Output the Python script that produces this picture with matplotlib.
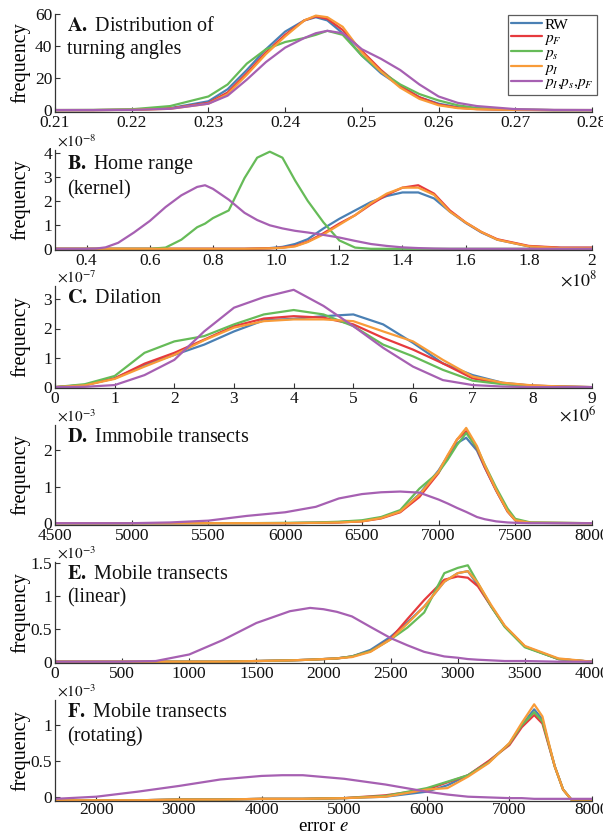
import matplotlib
matplotlib.use("Agg")
import matplotlib.pyplot as plt

plt.rcParams['font.family'] = 'serif'
plt.rcParams['font.serif'] = ['Liberation Serif', 'DejaVu Serif']
plt.rcParams['mathtext.fontset'] = 'stix'

# ---------------- data ----------------
series_names = ["RW", "$p_F$", "$p_s$", "$p_I$", "$p_I{,}p_s{,}p_F$"]
colors = ['#4A80B4', '#E63A3D', '#66BB58', '#F89B38', '#A660B2']

# A. Distribution of turning angles
A_x = [0.21, 0.215, 0.22, 0.225, 0.23, 0.2325, 0.235, 0.2375, 0.24, 0.2425, 0.244, 0.2455,
       0.2475, 0.25, 0.2525, 0.255, 0.2575, 0.26, 0.2625, 0.265, 0.27, 0.275, 0.28]
A_RW = [0, 0, 0.2, 1.2, 5.5, 13, 25, 38, 49, 56, 58, 56, 48, 34, 23, 15, 8, 4, 1.8, 0.8, 0.2, 0, 0]
A_pF = [0, 0, 0.2, 1, 4.5, 11, 23, 36, 47, 56, 58.5, 57, 50, 37, 25, 15, 8, 3.5, 1.5, 0.6, 0.1, 0, 0]
A_ps = [0, 0.1, 0.5, 2.5, 8.5, 16, 29, 38, 42.5, 45, 47, 49.5, 47, 34, 24, 16, 10, 6, 3, 1.3, 0.3, 0, 0]
A_pI = [0, 0, 0.1, 0.8, 4, 10, 22, 35, 46, 56, 59, 58, 52, 36, 24, 14, 7, 3, 1.2, 0.5, 0.1, 0, 0]
A_all = [0, 0, 0.1, 0.8, 4, 9, 19, 30, 39, 45, 48, 49.5, 48, 38, 32, 25, 16, 8.5, 4.5, 2.5, 0.6, 0.1, 0]

# B. Home range (kernel), x in 1e8, y in 1e-8
B_x = [0.3, 0.4, 0.43, 0.46, 0.5, 0.55, 0.6, 0.65, 0.7, 0.75, 0.775, 0.8, 0.85, 0.9, 0.94, 0.98, 1.02,
       1.06, 1.1, 1.15, 1.2, 1.25, 1.3, 1.35, 1.4, 1.45, 1.5, 1.55, 1.6, 1.65, 1.7, 1.8, 1.9, 2.0]
B_RW = [0, 0, 0, 0, 0, 0, 0, 0, 0, 0, 0, 0, 0, 0, 0.01, 0.03, 0.08, 0.2, 0.4, 0.85, 1.25, 1.6, 1.95,
        2.2, 2.35, 2.35, 2.1, 1.55, 1.08, 0.68, 0.38, 0.1, 0.04, 0.04]
B_pF = [0, 0, 0, 0, 0, 0, 0, 0, 0, 0, 0, 0, 0, 0, 0.01, 0.02, 0.05, 0.12, 0.3, 0.65, 1.05, 1.4, 1.85,
        2.25, 2.55, 2.65, 2.3, 1.6, 1.1, 0.7, 0.4, 0.12, 0.05, 0.05]
B_ps = [0, 0, 0, 0, 0, 0, 0, 0.05, 0.38, 0.9, 1.05, 1.28, 1.6, 2.95, 3.8, 4.05, 3.8, 2.85, 2.0, 1.1,
        0.35, 0.05, 0, 0, 0, 0, 0, 0, 0, 0, 0, 0, 0, 0]
B_pI = [0, 0, 0, 0, 0, 0, 0, 0, 0, 0, 0, 0, 0, 0, 0.01, 0.02, 0.04, 0.1, 0.28, 0.6, 1.0, 1.4, 1.9,
        2.3, 2.55, 2.55, 2.25, 1.55, 1.1, 0.7, 0.38, 0.1, 0.03, 0.02]
B_all = [0, 0, 0.01, 0.06, 0.25, 0.68, 1.16, 1.74, 2.23, 2.58, 2.65, 2.5, 2.05, 1.5, 1.2, 0.98, 0.85,
         0.75, 0.68, 0.58, 0.47, 0.33, 0.2, 0.12, 0.06, 0.03, 0.01, 0, 0, 0, 0, 0, 0, 0]

# C. Dilation, x in 1e6, y in 1e-7
C_x = [0, 0.5, 1, 1.5, 2, 2.5, 3, 3.5, 4, 4.5, 5, 5.5, 6, 6.5, 7, 7.5, 8, 8.5, 9]
C_RW = [0, 0.07, 0.3, 0.76, 1.1, 1.45, 1.9, 2.28, 2.33, 2.42, 2.48, 2.14, 1.51, 0.81, 0.41, 0.15, 0.05, 0.02, 0]
C_pF = [0, 0.07, 0.3, 0.8, 1.17, 1.62, 2.08, 2.34, 2.42, 2.37, 2.14, 1.68, 1.28, 0.81, 0.3, 0.12, 0.05, 0.02, 0]
C_ps = [0, 0.1, 0.38, 1.17, 1.56, 1.74, 2.14, 2.48, 2.63, 2.48, 2.08, 1.45, 1.05, 0.59, 0.22, 0.1, 0.03, 0.01, 0]
C_pI = [0, 0.06, 0.28, 0.7, 1.1, 1.6, 2.03, 2.25, 2.31, 2.31, 2.25, 1.9, 1.56, 0.93, 0.36, 0.15, 0.06, 0.02, 0]
C_all = [0, 0.01, 0.07, 0.41, 0.93, 1.9, 2.71, 3.07, 3.32, 2.77, 2.08, 1.34, 0.7, 0.24, 0.07, 0.02, 0, 0, 0]

# D. Immobile transects, y in 1e-3
D_x = [4500, 5000, 5250, 5500, 5750, 6000, 6200, 6350, 6500, 6625, 6750, 6875, 7000, 7060, 7120,
       7180, 7250, 7300, 7375, 7450, 7500, 7600, 8000]
D_RW = [0, 0, 0, 0, 0, 0, 0.01, 0.03, 0.06, 0.15, 0.32, 0.8, 1.45, 1.85, 2.2, 2.35, 2.0, 1.54, 0.9, 0.32, 0.08, 0.01, 0]
D_pF = [0, 0, 0, 0, 0, 0, 0.01, 0.02, 0.05, 0.13, 0.3, 0.72, 1.38, 1.85, 2.3, 2.53, 2.05, 1.55, 0.9, 0.32, 0.08, 0.01, 0]
D_ps = [0, 0, 0, 0, 0, 0.01, 0.02, 0.04, 0.08, 0.17, 0.36, 0.95, 1.4, 1.75, 2.15, 2.48, 2.08, 1.62, 0.98, 0.4, 0.12, 0.02, 0]
D_pI = [0, 0, 0, 0, 0, 0, 0.01, 0.02, 0.05, 0.14, 0.32, 0.78, 1.42, 1.88, 2.3, 2.62, 2.12, 1.6, 0.92, 0.33, 0.08, 0.01, 0]
D_all = [0, 0, 0.02, 0.07, 0.2, 0.3, 0.45, 0.68, 0.8, 0.85, 0.87, 0.84, 0.65, 0.54, 0.42, 0.31, 0.17, 0.11, 0.05, 0.02, 0.01, 0, 0]

# E. Mobile transects (linear), y in 1e-3
E_x = [0, 500, 750, 1000, 1250, 1500, 1750, 1900, 2000, 2100, 2212, 2350, 2500, 2625, 2750, 2900,
       3000, 3075, 3150, 3250, 3350, 3500, 3750, 4000]
E_RW = [0, 0, 0, 0, 0, 0.01, 0.02, 0.03, 0.04, 0.05, 0.08, 0.18, 0.38, 0.6, 0.84, 1.22, 1.35, 1.38, 1.17, 0.84, 0.54, 0.23, 0.04, 0]
E_pF = [0, 0, 0, 0, 0, 0.01, 0.02, 0.03, 0.04, 0.05, 0.08, 0.16, 0.35, 0.65, 0.94, 1.25, 1.3, 1.28, 1.15, 0.84, 0.54, 0.23, 0.04, 0]
E_ps = [0, 0, 0, 0, 0, 0.01, 0.02, 0.03, 0.04, 0.05, 0.08, 0.16, 0.34, 0.52, 0.75, 1.35, 1.43, 1.47, 1.2, 0.84, 0.53, 0.22, 0.04, 0]
E_pI = [0, 0, 0, 0, 0, 0.01, 0.02, 0.03, 0.04, 0.05, 0.07, 0.15, 0.34, 0.58, 0.84, 1.22, 1.35, 1.38, 1.2, 0.86, 0.55, 0.24, 0.05, 0]
E_all = [0, 0, 0.01, 0.11, 0.33, 0.59, 0.77, 0.82, 0.8, 0.76, 0.69, 0.53, 0.36, 0.25, 0.15, 0.08, 0.06, 0.04, 0.03, 0.02, 0.01, 0.01, 0, 0]

# F. Mobile transects (rotating), y in 1e-3
F_x = [1500, 2000, 2500, 3000, 3500, 4000, 4250, 4500, 5000, 5500, 6000, 6250, 6500, 6750, 7000,
       7150, 7300, 7400, 7475, 7550, 7650, 7750, 8000]
F_RW = [-0.05, -0.05, -0.05, -0.04, -0.04, -0.03, -0.03, -0.03, -0.02, 0.0, 0.07, 0.16, 0.3, 0.49, 0.74, 1.0, 1.22, 1.08, 0.74, 0.42, 0.1, -0.04, -0.04]
F_pF = [-0.05, -0.05, -0.05, -0.04, -0.04, -0.03, -0.03, -0.03, -0.02, 0.02, 0.1, 0.2, 0.3, 0.5, 0.72, 0.97, 1.14, 1.02, 0.72, 0.42, 0.1, -0.04, -0.04]
F_ps = [-0.05, -0.05, -0.05, -0.04, -0.04, -0.03, -0.03, -0.03, -0.02, 0.01, 0.12, 0.21, 0.3, 0.48, 0.74, 1.0, 1.18, 1.05, 0.74, 0.42, 0.1, -0.04, -0.04]
F_pI = [-0.05, -0.05, -0.05, -0.04, -0.04, -0.03, -0.03, -0.03, -0.02, 0.0, 0.1, 0.12, 0.28, 0.47, 0.75, 1.03, 1.29, 1.12, 0.76, 0.42, 0.1, -0.04, -0.04]
F_all = [-0.03, 0.0, 0.07, 0.15, 0.24, 0.29, 0.3, 0.3, 0.25, 0.17, 0.07, 0.03, 0.0, -0.01, -0.02, -0.02, -0.03, -0.03, -0.03, -0.03, -0.03, -0.03, -0.03]

# ticks / labels
A_xt = [0.21, 0.22, 0.23, 0.24, 0.25, 0.26, 0.27, 0.28]
A_xtl = ['0.21', '0.22', '0.23', '0.24', '0.25', '0.26', '0.27', '0.28']
A_yt = [0, 20, 40, 60]
B_xt = [0.4, 0.6, 0.8, 1.0, 1.2, 1.4, 1.6, 1.8, 2.0]
B_xtl = ['0.4', '0.6', '0.8', '1.0', '1.2', '1.4', '1.6', '1.8', '2']
B_yt = [0, 1, 2, 3, 4]
C_xt = [0, 1, 2, 3, 4, 5, 6, 7, 8, 9]
C_yt = [0, 1, 2, 3]
D_xt = [4500, 5000, 5500, 6000, 6500, 7000, 7500, 8000]
D_yt = [0, 1, 2]
E_xt = [0, 500, 1000, 1500, 2000, 2500, 3000, 3500, 4000]
E_yt = [0, 0.5, 1, 1.5]
E_ytl = ['0', '0.5', '1', '1.5']
F_xt = [2000, 3000, 4000, 5000, 6000, 7000, 8000]
F_yt = [0, 0.5, 1]
F_ytl = ['0', '0.5', '1']

titles = [r"$\mathbf{A.}$ Distribution of" + "\nturning angles",
          r"$\mathbf{B.}$ Home range" + "\n(kernel)",
          r"$\mathbf{C.}$ Dilation",
          r"$\mathbf{D.}$ Immobile transects",
          r"$\mathbf{E.}$ Mobile transects" + "\n(linear)",
          r"$\mathbf{F.}$ Mobile transects" + "\n(rotating)"]

# ---------------- figure ----------------
W, H = 603, 834
fig = plt.figure(figsize=(W / 100, H / 100), dpi=100)

def add_ax(top, bottom, left=55, right=592):
    return fig.add_axes([left / W, 1 - bottom / H, (right - left) / W, (bottom - top) / H])

panels = [
    dict(box=(14, 112), x=A_x, ys=[A_RW, A_pF, A_ps, A_pI, A_all], xlim=(0.21, 0.28), ylim=(-1.2, 60),
         xt=A_xt, xtl=A_xtl, yt=A_yt, ytl=None, mult=None, xmult=None, xm_y=0),
    dict(box=(150, 250), x=B_x, ys=[B_RW, B_pF, B_ps, B_pI, B_all], xlim=(0.3, 2.0), ylim=(-0.05, 4.12),
         xt=B_xt, xtl=B_xtl, yt=B_yt, ytl=None, mult=r"$\times10^{-8}$", xmult=r"$\times10^{8}$", xm_y=-0.2),
    dict(box=(286, 388), x=C_x, ys=[C_RW, C_pF, C_ps, C_pI, C_all], xlim=(0, 9), ylim=(-0.03, 3.45),
         xt=C_xt, xtl=None, yt=C_yt, ytl=None, mult=r"$\times10^{-7}$", xmult=r"$\times10^{6}$", xm_y=-0.17),
    dict(box=(425, 525), x=D_x, ys=[D_RW, D_pF, D_ps, D_pI, D_all], xlim=(4500, 8000), ylim=(-0.05, 2.7),
         xt=D_xt, xtl=None, yt=D_yt, ytl=None, mult=r"$\times10^{-3}$", xmult=None, xm_y=0),
    dict(box=(562, 663), x=E_x, ys=[E_RW, E_pF, E_ps, E_pI, E_all], xlim=(0, 4000), ylim=(-0.02, 1.52),
         xt=E_xt, xtl=None, yt=E_yt, ytl=E_ytl, mult=r"$\times10^{-3}$", xmult=None, xm_y=0),
    dict(box=(700, 801), x=F_x, ys=[F_RW, F_pF, F_ps, F_pI, F_all], xlim=(1500, 8000), ylim=(-0.06, 1.35),
         xt=F_xt, xtl=None, yt=F_yt, ytl=F_ytl, mult=r"$\times10^{-3}$", xmult=None, xm_y=0),
]

spine_col = '#333333'
axes = []
for i, p in enumerate(panels):
    ax = add_ax(*p['box'])
    axes.append(ax)
    for name, col, y in zip(series_names, colors, p['ys']):
        ax.plot(p['x'], y, color=col, lw=1.6, label=name, solid_capstyle='round')
    ax.set_xlim(*p['xlim'])
    ax.set_ylim(*p['ylim'])
    ax.set_xticks(p['xt'])
    if p['xtl'] is not None:
        ax.set_xticklabels(p['xtl'])
    ax.set_yticks(p['yt'])
    if p['ytl'] is not None:
        ax.set_yticklabels(p['ytl'])
    for s in ['top', 'right']:
        ax.spines[s].set_visible(False)
    for s in ['left', 'bottom']:
        ax.spines[s].set_color(spine_col)
        ax.spines[s].set_linewidth(0.9)
    ax.tick_params(direction='in', length=3.5, width=0.8, colors=spine_col,
                   labelcolor='#111111', labelsize=12.5, pad=2)
    ax.tick_params(axis='x', pad=2 if i < 5 else 1)
    ax.set_ylabel('frequency', fontsize=14.5)
    ax.yaxis.set_label_coords(-25 / 537, 0.5)
    hpx = p['box'][1] - p['box'][0]
    ax.text(12 / 537, 1.0 - 3 / hpx, titles[i], transform=ax.transAxes,
            fontsize=14.5, va='top', ha='left', linespacing=1.3, color='#111111')
    if p['mult']:
        ax.text(2 / 537, 1.0, p['mult'], transform=ax.transAxes, fontsize=11,
                va='bottom', ha='left', color='#111111')
    if p['xmult']:
        ax.text(1.0 + 5 / 537, p['xm_y'], p['xmult'], transform=ax.transAxes, fontsize=13,
                va='top', ha='right', color='#111111')
    ax.patch.set_alpha(0)

axes[-1].set_xlabel('error $e$', fontsize=13.5)
axes[-1].xaxis.set_label_coords(0.5, -0.17)

leg = axes[0].legend(loc='upper right', bbox_to_anchor=(597 / W, 1 - 15 / H),
                     bbox_transform=fig.transFigure, fontsize=11, frameon=True, fancybox=False,
                     handlelength=2.0, handletextpad=0.15, labelspacing=-0.05, borderpad=0.2,
                     borderaxespad=0)
leg.get_frame().set_edgecolor('#333333')
leg.get_frame().set_linewidth(0.9)

fig.savefig('out.png', dpi=100)
